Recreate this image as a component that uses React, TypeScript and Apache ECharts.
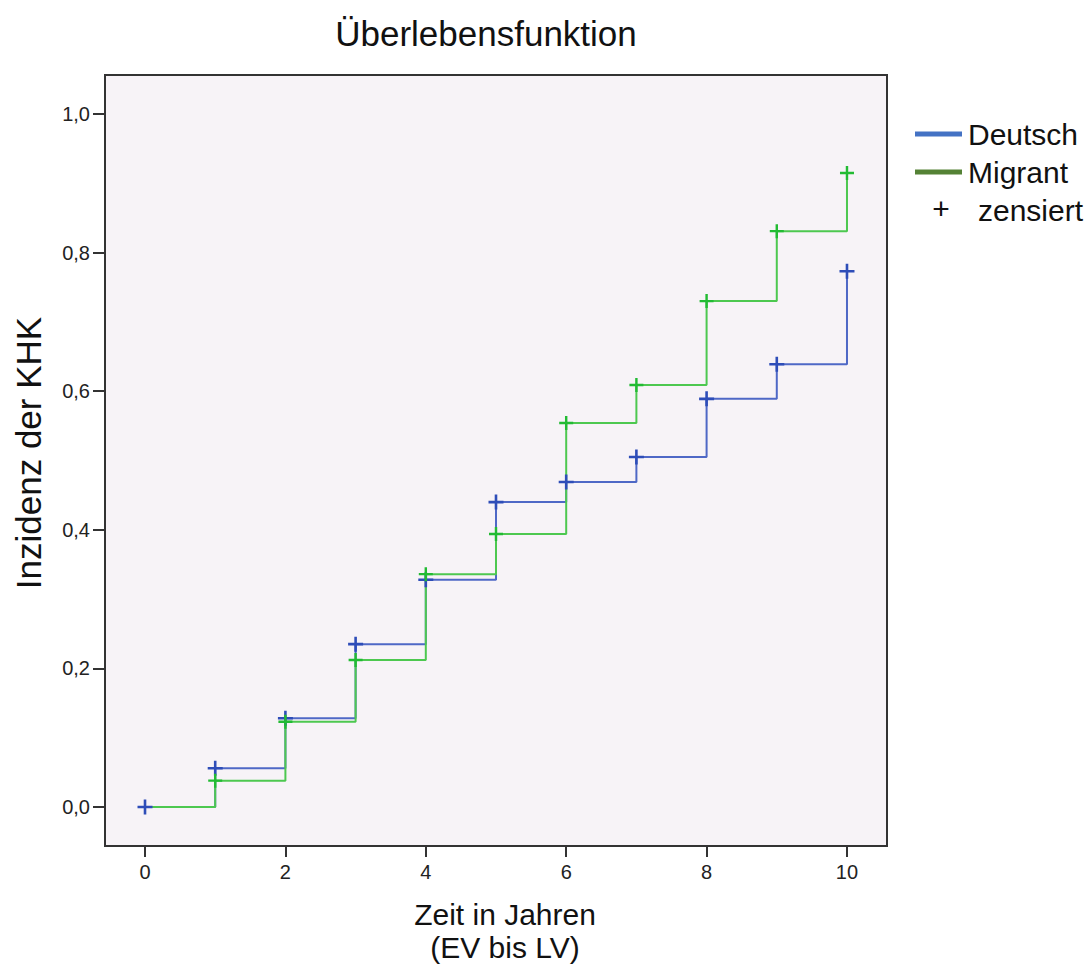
import React, { useEffect, useRef } from "react";
import * as echarts from "echarts";

const years = [0, 1, 2, 3, 4, 5, 6, 7, 8, 9, 10];
const deutsch = [0, 0.056, 0.128, 0.235, 0.328, 0.44, 0.469, 0.505, 0.589, 0.639, 0.773];
const migrant = [0, 0.038, 0.123, 0.212, 0.336, 0.394, 0.554, 0.609, 0.73, 0.831, 0.915];
const xTicks = [0, 2, 4, 6, 8, 10];
const yTicks = [0, 0.2, 0.4, 0.6, 0.8, 1.0];

const title = "Überlebensfunktion";
const xName1 = "Zeit in Jahren";
const xName2 = "(EV bis LV)";
const yName = "Inzidenz der KHK";
const legendNames = ["Deutsch", "Migrant"];
const censoredLabel = "zensiert";

const FONT = "'Liberation Sans', Arial, sans-serif";
const PLUS = "path://M6.2,0 H8.8 V6.2 H15 V8.8 H8.8 V15 H6.2 V8.8 H0 V6.2 H6.2 Z";

export default function App() {
  const ref = useRef<HTMLDivElement>(null);
  useEffect(() => {
    if (!ref.current) return;
    const chart = echarts.init(ref.current, undefined, { renderer: "svg" });
    const blueData = years.map((t, i) => [t, deutsch[i]]);
    const greenData = years.map((t, i) => [t, migrant[i]]);
    chart.setOption({
      animation: false,
      backgroundColor: "#ffffff",
      grid: {
        left: 105,
        top: 75,
        right: 203,
        bottom: 120,
        show: true,
        backgroundColor: "#F7F3F7",
        borderColor: "#333333",
        borderWidth: 2,
      },
      xAxis: {
        type: "value",
        min: -0.57,
        max: 10.57,
        splitLine: { show: false },
        axisLine: { show: true, onZero: false, lineStyle: { color: "#333333", width: 2 } },
        axisTick: { show: true, customValues: xTicks, length: 11, lineStyle: { color: "#333333", width: 2 } },
        axisLabel: {
          customValues: xTicks,
          color: "#222222",
          fontSize: 20,
          fontFamily: FONT,
          margin: 16,
          formatter: (v: number) => String(v),
        },
      },
      yAxis: {
        type: "value",
        min: -0.0563,
        max: 1.0563,
        splitLine: { show: false },
        axisLine: { show: true, onZero: false, lineStyle: { color: "#333333", width: 2 } },
        axisTick: { show: true, customValues: yTicks, length: 12, lineStyle: { color: "#333333", width: 2 } },
        axisLabel: {
          customValues: yTicks,
          color: "#222222",
          fontSize: 20,
          fontFamily: FONT,
          margin: 15,
          formatter: (v: number) => v.toFixed(1).replace(".", ","),
        },
      },
      series: [
        {
          type: "line",
          step: "end",
          data: blueData,
          showSymbol: false,
          lineStyle: { color: "#4F68C6", width: 2 },
          z: 2,
        },
        {
          type: "line",
          step: "end",
          data: greenData,
          showSymbol: false,
          lineStyle: { color: "#4DC850", width: 2 },
          z: 3,
        },
        {
          type: "scatter",
          data: blueData,
          symbol: PLUS,
          symbolSize: 15,
          itemStyle: { color: "#2E4DB8", opacity: 1 },
          z: 4,
        },
        {
          type: "scatter",
          data: greenData.slice(1),
          symbol: PLUS,
          symbolSize: 14,
          itemStyle: { color: "#22BB33", opacity: 1 },
          z: 5,
        },
      ],
      graphic: [
        {
          type: "text",
          x: 486,
          y: 33,
          style: { text: title, font: `35px ${FONT}`, fill: "#111111", textAlign: "center", textVerticalAlign: "middle" },
        },
        {
          type: "text",
          x: 28,
          y: 453,
          rotation: Math.PI / 2,
          style: { text: yName, font: `35px ${FONT}`, fill: "#111111", textAlign: "center", textVerticalAlign: "middle" },
        },
        {
          type: "text",
          x: 505,
          y: 914,
          style: { text: xName1, font: `30px ${FONT}`, fill: "#111111", textAlign: "center", textVerticalAlign: "middle" },
        },
        {
          type: "text",
          x: 505,
          y: 947,
          style: { text: xName2, font: `30px ${FONT}`, fill: "#111111", textAlign: "center", textVerticalAlign: "middle" },
        },
        {
          type: "line",
          shape: { x1: 915, y1: 134, x2: 962, y2: 134 },
          style: { stroke: "#4472C4", lineWidth: 5 },
        },
        {
          type: "text",
          x: 968,
          y: 134,
          style: { text: legendNames[0], font: `30px ${FONT}`, fill: "#111111", textAlign: "left", textVerticalAlign: "middle" },
        },
        {
          type: "line",
          shape: { x1: 915, y1: 172, x2: 962, y2: 172 },
          style: { stroke: "#548235", lineWidth: 5 },
        },
        {
          type: "text",
          x: 968,
          y: 172,
          style: { text: legendNames[1], font: `30px ${FONT}`, fill: "#111111", textAlign: "left", textVerticalAlign: "middle" },
        },
        {
          type: "text",
          x: 941,
          y: 208,
          style: { text: "+", font: `30px ${FONT}`, fill: "#111111", textAlign: "center", textVerticalAlign: "middle" },
        },
        {
          type: "text",
          x: 978,
          y: 210,
          style: { text: censoredLabel, font: `30px ${FONT}`, fill: "#111111", textAlign: "left", textVerticalAlign: "middle" },
        },
      ],
    });
    return () => chart.dispose();
  }, []);
  return (
    <div
      ref={ref}
      style={{ position: "fixed", left: 0, top: 0, width: 1090, height: 966, background: "#ffffff" }}
    />
  );
}
